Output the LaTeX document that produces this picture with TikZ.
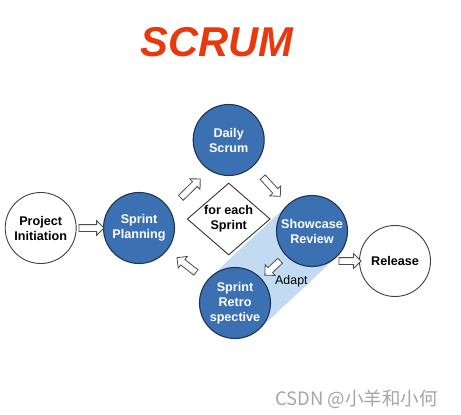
\documentclass[tikz,border=0pt]{standalone}
\usepackage{fontspec}
\setmainfont{Liberation Sans}
\newfontfamily\cjkfont{Noto Sans CJK SC}
\usetikzlibrary{shapes.geometric,shapes.arrows,calc}

\definecolor{scrumred}{RGB}{232,56,13}
\definecolor{phaseblue}{RGB}{59,112,178}
\definecolor{phaseline}{RGB}{35,50,80}
\definecolor{bandblue}{RGB}{194,219,242}
\definecolor{markgray}{RGB}{165,165,165}

\begin{document}
\begin{tikzpicture}[
    x=1pt, y=-1pt,
    phase/.style={circle, draw=phaseline, line width=1.1pt, fill=phaseblue, minimum size=71pt,
      inner sep=0pt, align=center, text=white, font=\fontsize{12.6}{15}\selectfont\bfseries},
    milestone/.style={circle, draw=black!75, line width=0.9pt, fill=white, minimum size=71pt,
      inner sep=0pt, align=center, font=\fontsize{12.6}{15}\selectfont\bfseries},
    gate/.style={diamond, draw=black!80, line width=0.9pt, fill=white, aspect=1.15,
      minimum width=83pt, minimum height=72pt, inner sep=0.5pt, align=center,
      font=\fontsize{12.6}{15}\selectfont\bfseries},
    flow/.style={single arrow, draw=black!70, line width=0.8pt, fill=white, inner sep=3pt,
      single arrow head extend=4pt, single arrow head indent=0pt, minimum height=#1,
      sloped, allow upside down},
    flow/.default=24pt
]
  \useasboundingbox (0,0) rectangle (461,415);

  \node[font=\fontsize{41.7}{50}\selectfont\bfseries\itshape, text=scrumred, inner sep=0pt,
    anchor=base] (title) at (216.7,56.7) {SCRUM};

  % The inspect-and-adapt band is laid under the circles.
  \coordinate (srp) at (312,231);
  \coordinate (rsp) at (235,303);
  \filldraw[fill=bandblue, draw=bandblue!70!gray, densely dotted, line width=0.4pt]
    ($(srp)!35.5pt!-90:(rsp)$) -- ($(rsp)!35.5pt!90:(srp)$)
    -- ($(rsp)!35.5pt!-90:(srp)$) -- ($(srp)!35.5pt!90:(rsp)$) -- cycle;

  \node[milestone] (pi) at (40.7,228) {Project\\Initiation};
  \node[phase]     (pl) at (139,228)  {Sprint\\Planning};
  \node[phase]     (ds) at (228.7,140) {Daily\\Scrum};
  \node[gate]      (fe) at (228.7,219) {for each\\Sprint};
  \node[phase]     (sr) at (srp) {Showcase\\Review};
  \node[phase]     (rs) at (rsp) {Sprint\\Retro\\spective};
  \node[milestone] (rl) at (395,261) {Release};

  % Block arrows between the stages.
  \path (pi.east) -- node[flow=25pt] (f1) {} (pl.west);
  \path (pl.32) -- node[flow=27pt] (f2) {} (ds.237);
  \path (ds) -- node[flow=26pt] (f3) {} (sr);
  \path (sr) -- node[flow=21pt, pos=0.49] (f4) {} (rs);
  \path (rs) -- node[flow=24pt, pos=0.48] (f5) {} (pl);
  \path (sr.south east |- rl.west) -- node[flow=22pt] (f6) {} (rl.west);

  \node[font=\fontsize{12.4}{15}\selectfont, anchor=west, inner sep=0pt] (adapt) at (275,281) {Adapt};

  \node[font=\cjkfont\fontsize{18.5}{22}\selectfont, text=markgray, anchor=base west, inner sep=0pt]
    (mark) at (275,405) {CSDN @小羊和小何};
\end{tikzpicture}
\end{document}
